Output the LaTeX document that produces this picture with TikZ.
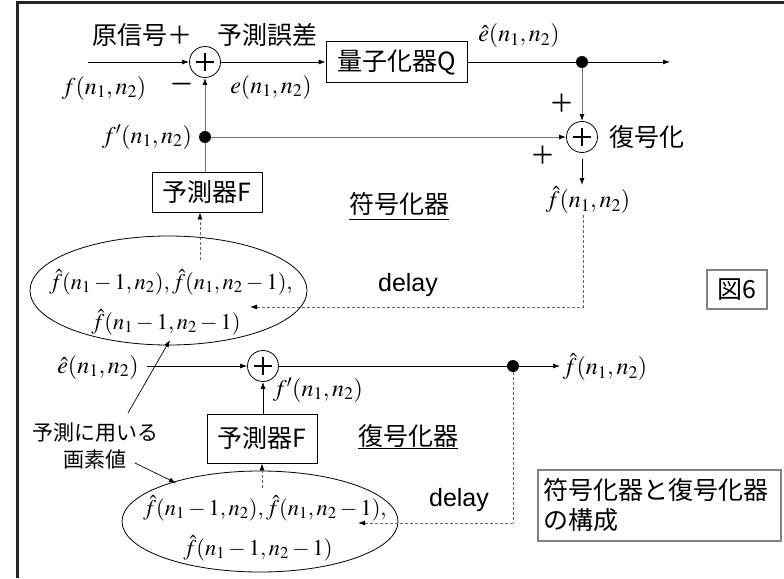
\documentclass[tikz,border=0pt]{standalone}
\usepackage{mathptmx}
\usepackage{fontspec}
\setmainfont{Liberation Sans}
\newfontfamily\jp{Noto Sans CJK JP}
\usetikzlibrary{arrows.meta,shapes.geometric}
\begin{document}
\begin{tikzpicture}[x=1pt,y=-1pt,
  jt/.style={font=\jp\fontsize{25}{30}\selectfont, inner sep=0pt},
  lt/.style={font=\fontsize{25}{30}\selectfont, inner sep=0pt},
  mt/.style={font=\fontsize{24}{28}\selectfont, inner sep=0pt},
  et/.style={font=\fontsize{22.5}{26}\selectfont, inner sep=0pt},
  blk/.style={draw, line width=0.8pt, inner sep=0pt, font=\jp\fontsize{25}{30}\selectfont},
  gbox/.style={draw=gray, line width=1.2pt, inner sep=0pt, font=\jp\fontsize{25}{30}\selectfont},
  sumc/.style={circle, draw, line width=0.8pt, minimum size=31pt, inner sep=0pt,
    path picture={\draw[line width=1.4pt] ([xshift=-9pt]path picture bounding box.center) -- ([xshift=9pt]path picture bounding box.center);
                  \draw[line width=1.4pt] ([yshift=-9pt]path picture bounding box.center) -- ([yshift=9pt]path picture bounding box.center);}},
  dotn/.style={circle, fill, minimum size=12pt, inner sep=0pt},
  ell/.style={ellipse, draw, line width=0.8pt, inner sep=0pt},
  arr/.style={line width=0.8pt, -{Latex[length=7pt,width=5pt]}},
  ln/.style={line width=0.8pt},
  garr/.style={line width=1pt, draw=black!55, -{Latex[length=7pt,width=5pt,fill=black,color=black]}},
  gln/.style={line width=1pt, draw=black!55},
  darr/.style={line width=0.8pt, draw=black!60, dash pattern=on 3pt off 2pt, -{Latex[length=7pt,width=5pt,color=black,fill=black]}},
  dln/.style={line width=0.8pt, draw=black!60, dash pattern=on 3pt off 2pt},
  thin arr/.style={line width=0.7pt, -{Latex[length=7pt,width=5pt]}}
]
\useasboundingbox (0,0) rectangle (784,578);
% frame
\draw[line width=3pt, black!85] (17.5,578) -- (17.5,2.5) -- (784,2.5);

% ===== encoder =====
\node[jt] (t1) at (142,35) {原信号＋};
\node[jt] (t2) at (267,35) {予測誤差};
\node[mt] (fin) at (104,88) {$f(n_1,n_2)$};
\node[jt] (minus) at (182,88) {－};
\node[mt] (el) at (271,87) {$e(n_1,n_2)$};
\node[mt] (ehl) at (519,36) {$\hat{e}(n_1,n_2)$};
\node[mt] (fpl) at (147,137) {$f'(n_1,n_2)$};
\node[jt] (p1) at (562,103) {＋};
\node[jt] (p2) at (543,155) {＋};
\node[jt] (dec) at (647,137) {復号化};
\node[mt] (fh1) at (588,200) {$\hat{f}(n_1,n_2)$};

\coordinate (inL) at (88,62);
\node[sumc] (s1) at (205,62) {};
\node[blk, minimum width=141pt, minimum height=41pt] (Q) at (396.5,62) {量子化器Q};
\node[dotn] (d1) at (582,62) {};
\coordinate (outR) at (670,62);
\node[sumc] (s2) at (582,137) {};
\node[dotn] (d2) at (205,137) {};
\node[blk, minimum width=110pt, minimum height=40pt] (F1) at (207,192) {予測器F};

\draw[arr] (inL) -- (s1);
\draw[arr] (s1) -- (Q);
\draw[ln] (Q) -- (d1);
\draw[arr] (d1) -- (outR);
\draw[garr] (d1) -- (s2);
\draw[garr] (d2) -- (s2);
\draw[gln] (F1.north -| d2) -- (d2);
\draw[garr] (d2) -- (s1);

\coordinate (s2o) at (582,159);
\coordinate (s2e) at (582,185);
\draw[arr] (s2o) -- (s2e);

\node[jt] (enc) at (399,204) {符号化器};
\draw[line width=1pt] (enc.south west |- 0,219) -- (enc.south east |- 0,219);

% ellipse 1
\node[ell, minimum width=277pt, minimum height=109pt] (e1) at (168.5,290.5) {};
\node[et] (e1a) at (171,282) {$\hat{f}(n_1-1,n_2),\hat{f}(n_1,n_2-1),$};
\node[et] (e1b) at (166,322) {$\hat{f}(n_1-1,n_2-1)$};
\coordinate (e1top) at (200,260);
\draw[darr] (e1top) -- (F1.south -| e1top);
\coordinate (dla) at (583,215);
\coordinate (dlb) at (583,307);
\coordinate (e1in) at (250,307);
\draw[darr] (dla) -- (dlb) -- (e1in);
\node[lt] (delay1) at (408,285) {delay};

\node[gbox, minimum width=60pt, minimum height=39pt] (fig) at (737,289.5) {図6};

% ===== decoder =====
\node[mt] (ehl2) at (98,367) {$\hat{e}(n_1,n_2)$};
\coordinate (in2) at (147,366);
\node[sumc] (s3) at (263,366) {};
\node[mt] (fpl2) at (318,390) {$f'(n_1,n_2)$};
\node[dotn] (d3) at (513,366) {};
\coordinate (out2) at (560,366);
\node[mt] (fh2) at (605,367) {$\hat{f}(n_1,n_2)$};
\node[blk, minimum width=110pt, minimum height=49pt] (F2) at (262,438.5) {予測器F};

\draw[arr] (in2) -- (s3);
\draw[ln] (s3) -- (d3);
\draw[arr] (d3) -- (out2);
\draw[arr] (F2.north -| s3) -- (s3);

\node[jt] (decd) at (408,436) {復号化器};
\draw[line width=1pt] (decd.south west |- 0,448) -- (decd.south east |- 0,448);

\node[ell, minimum width=276pt, minimum height=101pt] (e2) at (260,521.5) {};
\node[et] (e2a) at (265,508) {$\hat{f}(n_1-1,n_2),\hat{f}(n_1,n_2-1),$};
\node[et] (e2b) at (258,548) {$\hat{f}(n_1-1,n_2-1)$};
\coordinate (e2top) at (262,488);
\draw[darr] (e2top) -- (F2.south -| e2top);
\coordinate (dl2b) at (513,523);
\coordinate (e2in) at (358,523);
\draw[dln] (d3) -- (dl2b);
\draw[darr] (dl2b) -- (e2in);
\node[lt] (delay2) at (459,500) {delay};

% annotation
\node[jt, align=center, font=\jp\fontsize{21}{27}\selectfont] (ann) at (95,446) {予測に用いる\\画素値};
\coordinate (a1s) at (128,413);
\coordinate (a1e) at (170,340);
\coordinate (a2s) at (135,463);
\coordinate (a2e) at (176,483);
\draw[thin arr] (a1s) -- (a1e);
\draw[thin arr] (a2s) -- (a2e);

\node[gbox, minimum width=243pt, minimum height=71pt, align=left, text width=233pt] (cap) at (659.5,505.5) {符号化器と復号化器\\の構成};
\end{tikzpicture}
\end{document}
